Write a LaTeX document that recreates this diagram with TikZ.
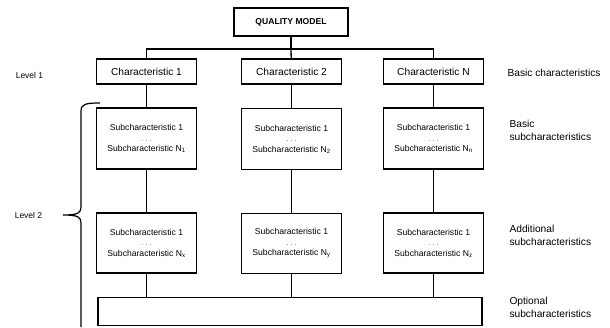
\documentclass[tikz,border=0pt]{standalone}
\usepackage{fontspec}
\setmainfont{Liberation Sans}
\usetikzlibrary{positioning}

\newcommand{\souscar}[1]{Subcharacteristic 1\\{\fontsize{6}{10}\selectfont . . .}\\Subcharacteristic N\textsubscript{#1}}

\begin{document}
\begin{tikzpicture}[x=1pt, y=-1pt,
    lien/.style={line width=1.3pt},
    boite/.style={draw, line width=1.3pt, minimum width=100pt, minimum height=25pt, inner sep=0pt,
                  font=\fontsize{10.2}{12}\selectfont},
    sousboite/.style={draw, line width=1.3pt, minimum width=100pt, minimum height=61pt, inner sep=0pt,
                      align=center, font=\fontsize{8.6}{10.5}\selectfont},
    etiq/.style={anchor=west, align=left, font=\fontsize{10.2}{13}\selectfont},
    niveau/.style={font=\fontsize{8.5}{10}\selectfont}]
        \useasboundingbox (0,0) rectangle (610,327);

        % --- Racine ---
        \node[boite, minimum width=114pt, minimum height=28pt, font=\fontsize{8.6}{10}\selectfont\bfseries]
            (qm) at (291,22) {QUALITY  MODEL};
        \coordinate (bus) at (291,49);

        % --- Niveau 1 : caracteristiques ---
        \node[boite] (c1) at (146.5,71.5) {Characteristic 1};
        \node[boite] (c2) at (291.5,71.5) {Characteristic 2};
        \node[boite] (cN) at (433.5,71.5) {Characteristic N};

        % --- Niveau 2 : sous-caracteristiques de base ---
        \node[sousboite] (s1) at (146.5,138.5) {\souscar{1}};
        \node[sousboite] (s2) at (291.5,139) {\souscar{2}};
        \node[sousboite] (sN) at (433.5,138.5) {\souscar{n}};

        % --- Sous-caracteristiques additionnelles ---
        \node[sousboite, minimum height=60pt] (a1) at (146.5,243) {\souscar{x}};
        \node[sousboite, minimum height=60pt] (a2) at (291.5,243.5) {\souscar{y}};
        \node[sousboite, minimum height=60pt] (aN) at (433.5,243) {\souscar{z}};

        % --- Sous-caracteristiques optionnelles ---
        \node[draw, line width=1.3pt, minimum width=384pt, minimum height=28pt] (opt) at (290,311.5) {};

        % --- Liens ---
        \draw[lien] (qm) -- (bus);
        \draw[lien] (c1.north) |- (bus) -| (cN.north);
        \draw[lien] (bus) -- (c2);
        \foreach \c/\s/\a in {c1/s1/a1, c2/s2/a2, cN/sN/aN} {
            \draw[lien] (\c) -- (\s);
            \draw[lien] (\s) -- (\a);
            \draw[lien] (\a) -- (\a |- opt.north);
        }

        % --- Accolade du niveau 2 ---
        \draw[line width=1.2pt] (100,103) .. controls (86,103) and (81,104) .. (81,111) -- (81,207)
            .. controls (81,213) and (78,215) .. (63,215)
            .. controls (78,215) and (81,217) .. (81,223) -- (81,327);

        % --- Etiquettes ---
        \node[niveau] (n1) at (29.5,75) {Level 1};
        \node[niveau] (n2) at (28.5,215) {Level 2};

        \node[etiq] (e1) at (504,73) {Basic characteristics};
        \node[etiq] (e2) at (506,130) {Basic\\subcharacteristics};
        \node[etiq] (e3) at (506,235) {Additional\\subcharacteristics};
        \node[etiq] (e4) at (506,307) {Optional\\subcharacteristics};
    \end{tikzpicture}
\end{document}
